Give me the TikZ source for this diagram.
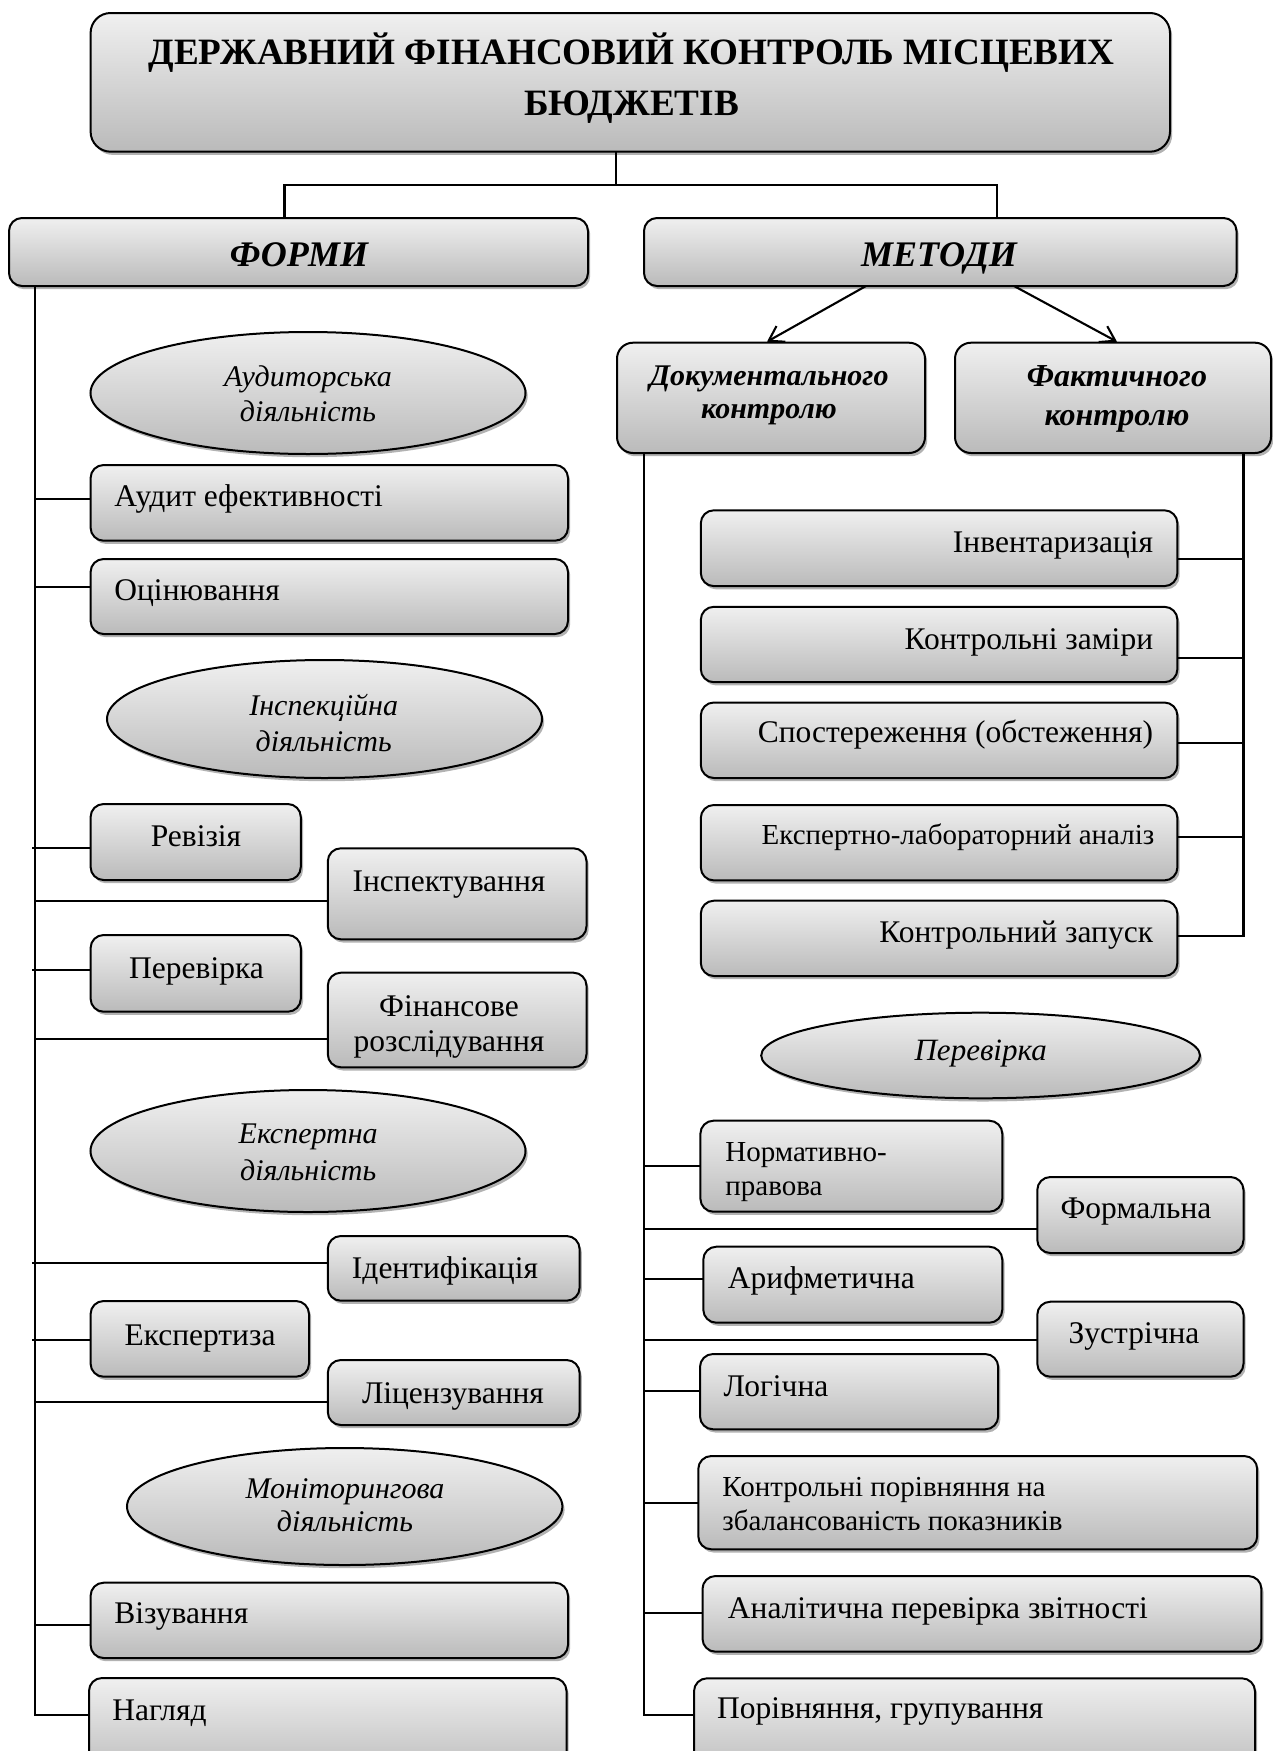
\documentclass[tikz,border=0pt]{standalone}
\usepackage{fontspec}
\setmainfont{Liberation Serif}
\usetikzlibrary{shapes.geometric,shadows,arrows.meta,calc}
\newcommand\fsz[2]{\fontsize{#1}{#2}\selectfont}
\newcommand\mkbox[6][]{\node[box,#1,minimum width={(#5-#3)*0.5pt},minimum height={(#6-#4)*0.5pt}] (#2) at ({(#3+#5)/2},{(#4+#6)/2}) {};}
\newcommand\mkell[6][]{\node[ell,#1,minimum width={#5pt},minimum height={#6pt}] (#2) at (#3,#4) {};}
\begin{document}
\begin{tikzpicture}[x=0.5pt,y=-0.5pt,
  gfill/.style={top color=black!6,bottom color=black!27,
    drop shadow={shadow xshift=1.1pt,shadow yshift=-1.6pt,fill=black!60,opacity=0.5}},
  box/.style={gfill,draw=black,line width=1pt,rounded corners=6.5pt,inner sep=0pt,outer sep=0pt},
  ell/.style={gfill,draw=black,line width=1pt,ellipse,inner sep=0pt,outer sep=0pt},
  conn/.style={draw=black,line width=1.05pt},
  arr/.style={conn,-{Straight Barb[length=7pt,width=9pt]}},
  tx/.style={inner sep=0pt,font=\fsz{15.75}{17.85}},
  txs/.style={inner sep=0pt,font=\fsz{14.5}{16.75}},
  txi/.style={inner sep=0pt,align=center},
]
\useasboundingbox (0,0) rectangle (1273,1751);

% ---------- top level ----------
\mkbox[rounded corners=10pt]{title}{90.6}{13}{1170}{151.7}
\mkbox{forms}{9}{218}{588}{286}
\mkbox{methods}{644}{218}{1236.5}{286}
\mkbox[rounded corners=8pt]{doc}{617}{342.7}{925}{453}
\mkbox[rounded corners=8pt]{fact}{955}{342.7}{1271}{453}

\node[inner sep=0pt,align=center,font=\bfseries\fsz{18.6}{25.35}] (ttitle) at (631.5,80.2)
  {\strut ДЕРЖАВНИЙ ФІНАНСОВИЙ КОНТРОЛЬ МІСЦЕВИХ\\\strut БЮДЖЕТІВ};
\node[inner sep=0pt,anchor=base,font=\bfseries\itshape\fsz{18}{20}] (tforms) at (299,266.7) {ФОРМИ};
\node[inner sep=0pt,anchor=base,font=\bfseries\itshape\fsz{18}{20}] (tmethods) at (939,266.7) {МЕТОДИ};
\node[inner sep=0pt,align=center,font=\bfseries\itshape\fsz{15}{16.65}] (tdoc) at (769,395)
  {\strut Документального\\\strut контролю};
\node[inner sep=0pt,align=center,font=\bfseries\itshape\fsz{16}{19.15}] (tfact) at (1117,398.2)
  {\strut Фактичного\\\strut контролю};

% ---------- left column ----------
\mkell{eaud}{308}{393}{217.5}{61}
\mkbox{audeff}{90.6}{465}{568}{540.7}
\mkbox{ocin}{90.6}{559}{568}{634}
\mkell{einsp}{324.5}{719}{217.5}{59}
\mkbox{reviz}{90.6}{804}{300.8}{880}
\mkbox{inspekt}{327.8}{848.3}{586.5}{939.3}
\mkbox{perev}{90.6}{935}{300.8}{1011.7}
\mkbox{finroz}{327.8}{972.7}{586.5}{1067.3}
\mkell{eexp}{308}{1151}{217.5}{61}
\mkbox{ident}{327.8}{1236}{579.6}{1300.7}
\mkbox{expertiza}{90.6}{1301}{309}{1376.7}
\mkbox{licenz}{327.8}{1360}{579.6}{1425}
\mkell{emon}{344.7}{1506.5}{217.7}{58.5}
\mkbox{vizuv}{90.6}{1582.7}{568}{1658}
\mkbox{nahlyad}{89}{1678}{566.5}{1780}

\node[txi,font=\itshape\fsz{15}{17.5}] (taud) at (308,397.2) {\strut Аудиторська\\\strut діяльність};
\node[tx,anchor=base west] (taudeff) at (114,506.7) {Аудит ефективності};
\node[tx,anchor=base west] (tocin) at (114,600.7) {Оцінювання};
\node[txi,font=\itshape\fsz{15}{18.35}] (tinsp) at (323.7,726) {\strut Інспекційна\\\strut діяльність};
\node[tx,anchor=base] (treviz) at (196,846.7) {Ревізія};
\node[tx,anchor=base] (tinspekt) at (449,891.7) {Інспектування};
\node[tx,anchor=base] (tperev) at (196.5,978.3) {Перевірка};
\node[inner sep=0pt,align=center,font=\fsz{15.75}{17.85}] (tfinroz) at (449,1026.7) {\strut Фінансове\\\strut розслідування};
\node[txi,font=\itshape\fsz{15}{18.35}] (texp) at (308.2,1154.3) {\strut Експертна\\\strut діяльність};
\node[tx,anchor=base] (tident) at (445,1278.3) {Ідентифікація};
\node[tx,anchor=base] (texpertiza) at (200,1345) {Експертиза};
\node[tx,anchor=base] (tlicenz) at (453,1403.3) {Ліцензування};
\node[txi,font=\itshape\fsz{15}{16.85}] (tmon) at (345,1508.1) {\strut Моніторингова\\\strut діяльність};
\node[tx,anchor=base west] (tvizuv) at (114,1623) {Візування};
\node[tx,anchor=base west] (tnahlyad) at (112,1720) {Нагляд};

% ---------- right column ----------
\mkbox{inv}{700.8}{510.3}{1177.4}{586.1}
\mkbox{kzam}{700.8}{606.8}{1177.4}{682.2}
\mkbox{spost}{700.8}{702.5}{1177.4}{778}
\mkbox{explab}{700.8}{805}{1177.4}{880.4}
\mkbox{kzap}{700.8}{900.7}{1177.4}{976}
\mkell{eperev}{980.6}{1055.5}{219.4}{42.8}
\mkbox{norm}{700.4}{1120.7}{1002.3}{1211.7}
\mkbox{formal}{1037.3}{1177}{1243.5}{1253}
\mkbox{arith}{703.3}{1246.7}{1002.3}{1322.7}
\mkbox{zustr}{1037.3}{1301.7}{1243.5}{1376.7}
\mkbox{logic}{700}{1354}{998.2}{1429.3}
\mkbox{kporivn}{698.3}{1456}{1257.2}{1549.3}
\mkbox{analit}{702.5}{1576}{1261.4}{1651.7}
\mkbox{porivn}{694}{1678.3}{1255}{1780}

\node[tx,anchor=base east] (tinv) at (1153.5,552.4) {Інвентаризація};
\node[tx,anchor=base east] (tkzam) at (1153.5,649.2) {Контрольні заміри};
\node[tx,anchor=base east] (tspost) at (1153.5,742.9) {Спостереження (обстеження)};
\node[txs,anchor=base east] (texplab) at (1154.7,844.6) {Експертно-лабораторний аналіз};
\node[tx,anchor=base east] (tkzap) at (1153.5,942.8) {Контрольний запуск};
\node[inner sep=0pt,anchor=base,font=\itshape\fsz{15.5}{17.5}] (teperev) at (980.7,1060.7) {Перевірка};
\node[inner sep=0pt,anchor=west,align=left,font=\fsz{14.5}{17}] (tnorm) at (725,1171.2) {\strut Нормативно-\\\strut правова};
\node[tx,anchor=base] (tformal) at (1136,1218) {Формальна};
\node[tx,anchor=base west] (tarith) at (727.5,1288) {Арифметична};
\node[tx,anchor=base] (tzustr) at (1134,1343) {Зустрічна};
\node[tx,anchor=base west] (tlogic) at (723.3,1396.7) {Логічна};
\node[inner sep=0pt,anchor=west,align=left,font=\fsz{14.5}{16.65}] (tkporivn) at (722,1506.7)
  {\strut Контрольні порівняння на\\\strut збалансованість показників};
\node[tx,anchor=base west] (tanalit) at (727.5,1618.3) {Аналітична перевірка звітності};
\node[tx,anchor=base west] (tporivn) at (716.6,1718) {Порівняння, групування};

% ---------- connectors ----------
\coordinate (J) at (616,185);
\draw[conn] (title.south -| J) -- (J);
\draw[conn] (forms.north -| 284.5,0) -- (284.5,185) -- (997,185) -- (methods.north -| 997,0);
\draw[arr] ($(methods.south)+(-74.25,0)$) -- ($(doc.north)+(-4,-1)$);
\draw[arr] ($(methods.south)+(73.75,0)$) -- ($(fact.north)+(4,-1)$);

\coordinate (LT) at (35,286);
\draw[conn] (forms.south -| LT) -- (LT |- 0,1715) -- (nahlyad.west |- 0,1715);
\draw[conn] (LT |- 0,499.3) -- (audeff.west |- 0,499.3);
\draw[conn] (LT |- 0,586.7) -- (ocin.west |- 0,586.7);
\draw[conn] ($(LT |- 0,847.7)+(-3,0)$) -- (reviz.west |- 0,847.7);
\draw[conn] (LT |- 0,900.7) -- (inspekt.west |- 0,900.7);
\draw[conn] ($(LT |- 0,970)+(-3,0)$) -- (perev.west |- 0,970);
\draw[conn] (LT |- 0,1039.3) -- (finroz.west |- 0,1039.3);
\draw[conn] ($(LT |- 0,1263.3)+(-3,0)$) -- (ident.west |- 0,1263.3);
\draw[conn] ($(LT |- 0,1340)+(-3,0)$) -- (expertiza.west |- 0,1340);
\draw[conn] (LT |- 0,1401.7) -- (licenz.west |- 0,1401.7);
\draw[conn] (LT |- 0,1625) -- (vizuv.west |- 0,1625);

\coordinate (DT) at (643.7,453);
\draw[conn] (doc.south -| DT) -- (DT |- 0,1715) -- (porivn.west |- 0,1715);
\draw[conn] (DT |- 0,1166) -- (norm.west |- 0,1166);
\draw[conn] (DT |- 0,1229) -- (formal.west |- 0,1229);
\draw[conn] (DT |- 0,1279.3) -- (arith.west |- 0,1279.3);
\draw[conn] (DT |- 0,1340) -- (zustr.west |- 0,1340);
\draw[conn] (DT |- 0,1390.7) -- (logic.west |- 0,1390.7);
\draw[conn] (DT |- 0,1503.3) -- (kporivn.west |- 0,1503.3);
\draw[conn] (DT |- 0,1613.3) -- (analit.west |- 0,1613.3);

\coordinate (FT) at (1243.5,453);
\draw[conn] (fact.south -| FT) -- (FT |- 0,935.8) -- (kzap.east |- 0,935.8);
\draw[conn] (FT |- 0,558.7) -- (inv.east |- 0,558.7);
\draw[conn] (FT |- 0,658) -- (kzam.east |- 0,658);
\draw[conn] (FT |- 0,742.9) -- (spost.east |- 0,742.9);
\draw[conn] (FT |- 0,836.9) -- (explab.east |- 0,836.9);
\end{tikzpicture}
\end{document}
